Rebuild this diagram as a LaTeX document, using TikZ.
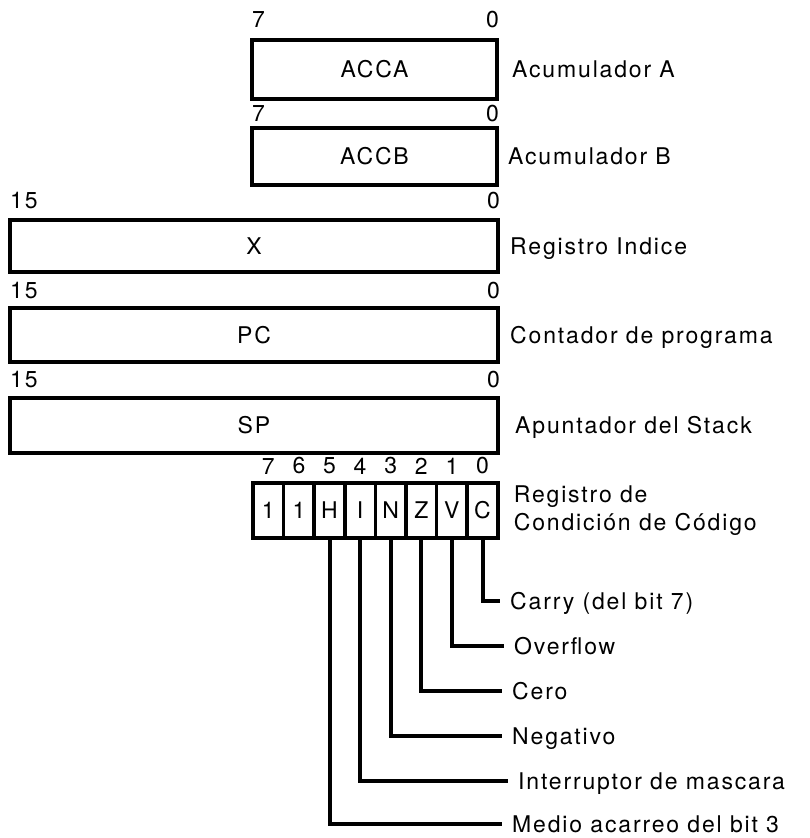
\documentclass[tikz,border=0pt]{standalone}
\usepackage{fontspec}
\setmainfont[LetterSpace=8]{TeX Gyre Heros}
\usetikzlibrary{positioning}
\newcommand{\regfont}{\fontsize{23}{28}\selectfont}

\begin{document}
\begin{tikzpicture}[x=1pt, y=1pt,
    reg/.style={rectangle, draw, line width=4pt, font=\regfont},
    cell/.style={rectangle, draw, line width=3.6pt, minimum width=30.6pt, minimum height=55pt, inner sep=0pt, font=\regfont},
    bitnum/.style={inner sep=0pt, font=\regfont},
    desc/.style={inner sep=0pt, font=\regfont, text height=16pt, text depth=0pt},
    wire/.style={draw, line width=4pt}]

    \useasboundingbox (0,0) rectangle (810,-838);

    \node [reg, minimum width=245pt, minimum height=59pt] (acca) at (374.5,-69.5) {ACCA};
    \node [reg, minimum width=245pt, minimum height=57pt] (accb) at (374.5,-156.5) {ACCB};
    \node [reg, minimum width=488pt, minimum height=52pt] (ix) at (254,-246) {X};
    \node [reg, minimum width=488pt, minimum height=54pt] (pc) at (254,-335) {PC};
    \node [reg, minimum width=488pt, minimum height=55pt] (sp) at (254,-425.5) {SP};

    \node [bitnum, above right=10pt and 2pt of acca.north west] (acca-hi) {7};
    \node [bitnum, above left=10pt and 0pt of acca.north east] (acca-lo) {0};
    \node [bitnum, above right=4pt and 2pt of accb.north west] (accb-hi) {7};
    \node [bitnum, above left=4pt and 0pt of accb.north east] (accb-lo) {0};
    \node [bitnum, above right=9pt and 2pt of ix.north west] (ix-hi) {15};
    \node [bitnum, above left=9pt and 0pt of ix.north east] (ix-lo) {0};
    \node [bitnum, above right=7pt and 2pt of pc.north west] (pc-hi) {15};
    \node [bitnum, above left=7pt and 0pt of pc.north east] (pc-lo) {0};
    \node [bitnum, above right=8pt and 2pt of sp.north west] (sp-hi) {15};
    \node [bitnum, above left=8pt and 0pt of sp.north east] (sp-lo) {0};

    \node [desc, right=13pt of acca] (acca-name) {Acumulador A};
    \node [desc, right=9pt of accb] (accb-name) {Acumulador B};
    \node [desc, right=10pt of ix] (ix-name) {Registro Indice};
    \node [desc, right=10pt of pc] (pc-name) {Contador de programa};
    \node [desc, right=15pt of sp] (sp-name) {Apuntador del Stack};

    \foreach \b/\t [count=\i from 0] in {7/1,6/1,5/H,4/I,3/N,2/Z,1/V,0/C}{
        \node [cell] (f\b) at (268.3+30.6*\i,-510.5) {\t};
        \node [bitnum, above=7pt of f\b] (n\b) {\b};
    }
    \node [bitnum, align=left, right=14pt of f0] (ccr-name) {Registro de\\Condición de Código};

    \node [desc, anchor=west] (carry) at (510,-601) {Carry (del bit 7)};
    \node [desc, anchor=west] (over) at (514,-646) {Overflow};
    \node [desc, anchor=west] (cero) at (512,-691) {Cero};
    \node [desc, anchor=west] (neg) at (512,-736) {Negativo};
    \node [desc, anchor=west] (intr) at (518,-781) {Interruptor de mascara};
    \node [desc, anchor=west] (medio) at (512,-824) {Medio acarreo del bit 3};

    \foreach \b/\n in {0/carry,1/over,2/cero,3/neg,4/intr,5/medio}
        \draw [wire] (f\b.south) |- ([xshift=-10pt]\n.west);
\end{tikzpicture}
\end{document}
